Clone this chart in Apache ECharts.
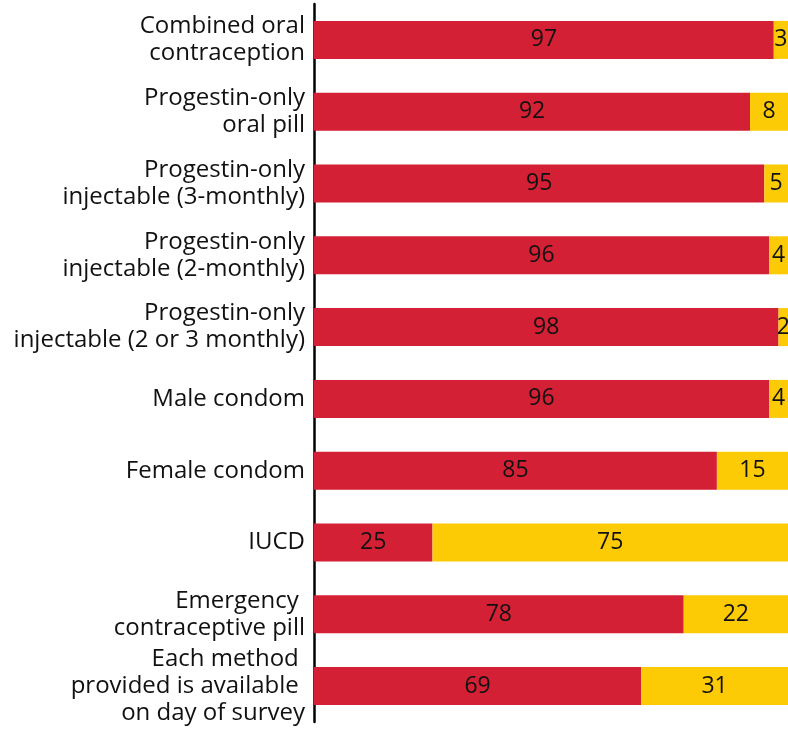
<!DOCTYPE html>
<html>
<head>
<meta charset="utf-8">
<script src="https://cdn.jsdelivr.net/npm/echarts@6/dist/echarts.min.js"></script>
<style>
  html, body { margin: 0; padding: 0; background: #fff; }
  #chart { width: 788px; height: 730px; }
</style>
</head>
<body>
<div id="chart"></div>
<script>
var categories = [
  "Combined oral\ncontraception",
  "Progestin-only\noral pill",
  "Progestin-only\ninjectable (3-monthly)",
  "Progestin-only\ninjectable (2-monthly)",
  "Progestin-only\ninjectable (2 or 3 monthly)",
  "Male condom",
  "Female condom",
  "IUCD",
  "Emergency \ncontraceptive pill",
  "Each method \nprovided is available \non day of survey"
];
var redValues = [97, 92, 95, 96, 98, 96, 85, 25, 78, 69];
var yellowValues = [3, 8, 5, 4, 2, 4, 15, 75, 22, 31];

var FONT = "Open Sans";

var chart = echarts.init(document.getElementById("chart"));
chart.setOption({
  animation: false,
  grid: { left: 314, right: 0, top: 4, bottom: 8 },
  xAxis: {
    type: "value",
    min: 0,
    max: 100,
    show: false
  },
  yAxis: {
    type: "category",
    inverse: true,
    data: categories,
    axisLine: { lineStyle: { color: "#000", width: 2.5 } },
    axisTick: { show: false },
    axisLabel: {
      color: "#111",
      fontFamily: FONT,
      fontSize: 24,
      lineHeight: 27,
      align: "right",
      margin: 9
    }
  },
  series: [
    {
      name: "red",
      type: "bar",
      stack: "total",
      data: redValues,
      barWidth: 38,
      itemStyle: { color: "#d32035" },
      label: {
        show: true,
        position: "inside",
        color: "#111",
        fontFamily: FONT,
        fontSize: 23
      }
    },
    {
      name: "yellow",
      type: "bar",
      stack: "total",
      data: yellowValues,
      barWidth: 38,
      itemStyle: { color: "#fdca06" },
      label: {
        show: true,
        position: "inside",
        color: "#111",
        fontFamily: FONT,
        fontSize: 23
      }
    }
  ]
});
</script>
</body>
</html>
